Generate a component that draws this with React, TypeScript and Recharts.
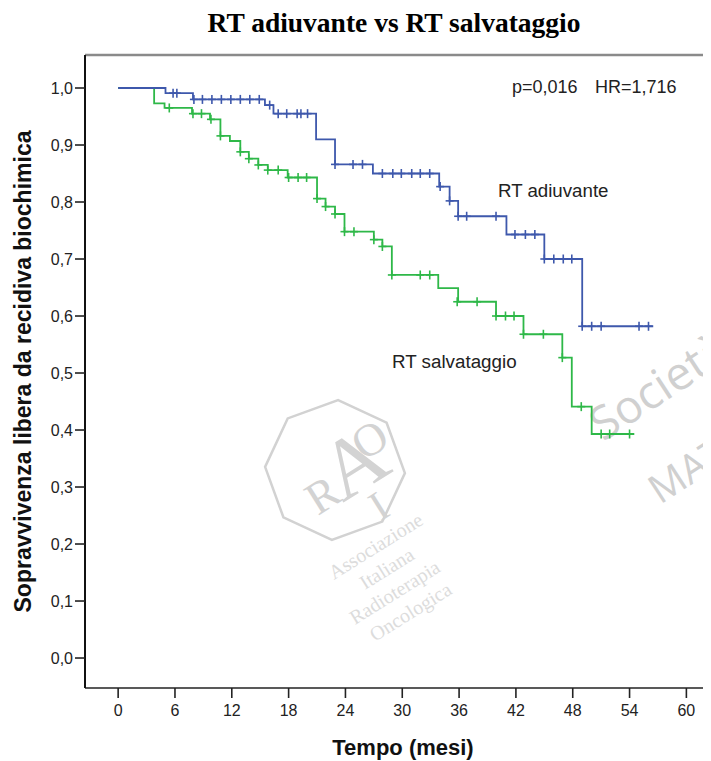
import React from 'react';
import { ComposedChart, Line, Scatter, XAxis, YAxis, ReferenceLine } from 'recharts';

// ---- Data (months, survival) ----
const adjuvantStepTimes = [0, 5.0, 7.9, 15.5, 16.4, 20.9, 22.9, 26.9, 33.9, 35.0, 35.9, 41.0, 45.0, 49.0, 56.5];
const adjuvantStepSurv = [1.0, 0.991, 0.98, 0.97, 0.955, 0.91, 0.866, 0.85, 0.827, 0.802, 0.775, 0.743, 0.7, 0.582, 0.582];
const adjuvantCensorTimes = [5.8, 6.2, 8.0, 8.9, 9.9, 10.9, 11.9, 12.9, 13.9, 14.9, 16.0, 16.9, 17.8, 18.9, 19.3, 20.0, 22.9, 24.8, 25.8, 27.9, 29.0, 29.9, 31.0, 31.9, 32.9, 34.0, 35.0, 35.9, 36.8, 39.9, 41.9, 43.0, 44.0, 45.0, 46.0, 47.0, 47.9, 49.0, 50.0, 51.0, 55.0, 56.0];
const adjuvantCensorSurv = [0.991, 0.991, 0.98, 0.98, 0.98, 0.98, 0.98, 0.98, 0.98, 0.98, 0.97, 0.955, 0.955, 0.955, 0.955, 0.955, 0.866, 0.866, 0.866, 0.85, 0.85, 0.85, 0.85, 0.85, 0.85, 0.827, 0.802, 0.775, 0.775, 0.775, 0.743, 0.743, 0.743, 0.7, 0.7, 0.7, 0.7, 0.582, 0.582, 0.582, 0.582, 0.582];

const salvageStepTimes = [0, 3.8, 4.9, 7.8, 9.7, 10.8, 11.8, 12.9, 13.8, 14.8, 15.8, 17.9, 21.0, 21.9, 22.9, 23.9, 27.0, 27.9, 28.9, 33.8, 35.9, 39.9, 42.8, 46.9, 47.9, 50.0, 54.5];
const salvageStepSurv = [1.0, 0.973, 0.965, 0.955, 0.945, 0.916, 0.907, 0.888, 0.876, 0.865, 0.856, 0.843, 0.806, 0.792, 0.779, 0.748, 0.734, 0.722, 0.672, 0.649, 0.625, 0.6, 0.568, 0.527, 0.441, 0.393, 0.393];
const salvageCensorTimes = [5.4, 7.9, 8.8, 9.8, 10.8, 12.9, 13.8, 14.8, 15.8, 16.9, 18.0, 19.0, 19.9, 21.0, 21.9, 22.9, 23.9, 24.9, 27.0, 27.9, 28.9, 31.9, 32.9, 35.8, 37.9, 39.9, 40.9, 41.8, 42.8, 44.9, 46.9, 48.9, 51.0, 51.9, 54.0];
const salvageCensorSurv = [0.965, 0.955, 0.955, 0.945, 0.916, 0.888, 0.876, 0.865, 0.856, 0.856, 0.843, 0.843, 0.843, 0.806, 0.792, 0.779, 0.748, 0.748, 0.734, 0.722, 0.672, 0.672, 0.672, 0.625, 0.625, 0.6, 0.6, 0.6, 0.568, 0.568, 0.527, 0.441, 0.393, 0.393, 0.393];

const xTicks = [0, 6, 12, 18, 24, 30, 36, 42, 48, 54, 60];
const yTicks = [0, 0.1, 0.2, 0.3, 0.4, 0.5, 0.6, 0.7, 0.8, 0.9, 1.0];

const X_DOMAIN: [number, number] = [-3.5, 64.5];
const Y_MIN = -0.0526;
const Y_MAX = 1.0579;

const BLUE = '#3E58AC';
const GREEN = '#2EB848';

const toRows = (ts: number[], ss: number[]) => ts.map((t, i) => ({ t, s: ss[i] }));

const adjuvantSteps = toRows(adjuvantStepTimes, adjuvantStepSurv);
const adjuvantCensor = toRows(adjuvantCensorTimes, adjuvantCensorSurv);
const salvageSteps = toRows(salvageStepTimes, salvageStepSurv);
const salvageCensor = toRows(salvageCensorTimes, salvageCensorSurv);

const plusShape = (color: string) => (props: any) => {
  const { cx, cy } = props;
  if (cx == null || cy == null) return <g />;
  return (
    <g>
      <line x1={cx - 4} x2={cx + 4} y1={cy} y2={cy} stroke={color} strokeWidth={1.6} />
      <line x1={cx} x2={cx} y1={cy - 4.5} y2={cy + 4.5} stroke={color} strokeWidth={1.6} />
    </g>
  );
};

const fmtY = (v: number) => v.toFixed(1).replace('.', ',');

const SANS = '"Liberation Sans", Arial, sans-serif';
const SERIF = '"Liberation Serif", "Times New Roman", serif';

function octagonPoints(cx: number, cy: number, r: number, rotDeg: number) {
  const pts: string[] = [];
  for (let i = 0; i < 8; i++) {
    const a = ((rotDeg + 22.5 + i * 45) * Math.PI) / 180;
    pts.push(`${(cx + r * Math.cos(a)).toFixed(1)},${(cy + r * Math.sin(a)).toFixed(1)}`);
  }
  return pts.join(' ');
}

export default function App() {
  const W = 703;
  const H = 753;
  return (
    <div style={{ position: 'relative', width: W, height: H, overflow: 'hidden', background: '#fff' }}>
      {/* watermark (behind chart) */}
      <svg width={W} height={H} style={{ position: 'absolute', left: 0, top: 0 }}>
        <polygon points={octagonPoints(327, 462, 70, -20)} fill="none" stroke="#d2d2d2" strokeWidth={2.5} />
        <g transform="rotate(-32 327 462)" fill="#d3d3d3" fontFamily={SERIF}>
          <text x={288} y={492} fontSize={46}>R</text>
          <text x={316} y={494} fontSize={84}>A</text>
          <text x={356} y={470} fontSize={46}>O</text>
          <text x={338} y={530} fontSize={42}>I</text>
        </g>
        <g fill="#dcdcdc" fontFamily={SERIF} fontSize={20}>
          <text x={326} y={572} transform="rotate(-32 326 572)">Associazione</text>
          <text x={357} y={582} transform="rotate(-32 357 582)">Italiana</text>
          <text x={347} y={617} transform="rotate(-32 347 617)">Radioterapia</text>
          <text x={367} y={634} transform="rotate(-32 367 634)">Oncologica</text>
        </g>
        <g fill="#d0d0d0" fontFamily={'"Open Sans", sans-serif'}>
          <text x={595} y={434} fontSize={46} transform="rotate(-33 595 434)">Società</text>
          <text x={652} y={497} fontSize={40} transform="rotate(-33 652 497)">MAT</text>
        </g>
      </svg>

      <div style={{ position: 'absolute', left: 0, top: 0 }}>
        <ComposedChart width={731} height={H} margin={{ top: 47, right: 10, bottom: 33, left: 0 }}>
          <XAxis
            dataKey="t"
            type="number"
            domain={X_DOMAIN}
            ticks={xTicks}
            allowDataOverflow
            tickSize={10}
            tickMargin={7}
            height={40}
            axisLine={{ stroke: '#222', strokeWidth: 1.6 }}
            tickLine={{ stroke: '#222', strokeWidth: 1.6 }}
            tick={{ fill: '#222', fontSize: 16, fontFamily: SANS }}
          />
          <YAxis
            type="number"
            domain={[Y_MIN, Y_MAX]}
            ticks={yTicks}
            allowDataOverflow
            width={77}
            tickSize={10}
            tickMargin={2}
            tickFormatter={fmtY}
            axisLine={{ stroke: '#111', strokeWidth: 2 }}
            tickLine={{ stroke: '#222', strokeWidth: 1.6 }}
            tick={{ fill: '#222', fontSize: 16, fontFamily: SANS }}
          />
          <ReferenceLine y={Y_MAX} stroke="#8a8a8a" strokeWidth={2.5} ifOverflow="visible" />
          <Line data={salvageSteps} dataKey="s" type="stepAfter" stroke={GREEN} strokeWidth={1.8} dot={false} isAnimationActive={false} />
          <Line data={adjuvantSteps} dataKey="s" type="stepAfter" stroke={BLUE} strokeWidth={1.8} dot={false} isAnimationActive={false} />
          <Scatter data={salvageCensor} dataKey="s" shape={plusShape(GREEN)} isAnimationActive={false} />
          <Scatter data={adjuvantCensor} dataKey="s" shape={plusShape(BLUE)} isAnimationActive={false} />
        </ComposedChart>
      </div>

      {/* text overlay */}
      <svg width={W} height={H} style={{ position: 'absolute', left: 0, top: 0, pointerEvents: 'none' }}>
        <text x={386} y={24} textAnchor="middle" fontFamily={SERIF} fontWeight="bold" fontSize={27.5} fill="#000">
          RT adiuvante vs RT salvataggio
        </text>
        <text x={504} y={85} fontFamily={SANS} fontSize={18} fill="#222">p=0,016</text>
        <text x={587} y={85} fontFamily={SANS} fontSize={18} fill="#222">HR=1,716</text>
        <text x={490} y={189} fontFamily={SANS} fontSize={18.7} fill="#222">RT adiuvante</text>
        <text x={384} y={360} fontFamily={SANS} fontSize={18.8} fill="#222">RT salvataggio</text>
        <text x={395} y={747} textAnchor="middle" fontFamily={SANS} fontWeight="bold" fontSize={22} fill="#111">
          Tempo (mesi)
        </text>
        <text
          x={23}
          y={363.5}
          textAnchor="middle"
          transform="rotate(-90 23 363.5)"
          fontFamily={SANS}
          fontWeight="bold"
          fontSize={23}
          fill="#111"
        >
          Sopravvivenza libera da recidiva biochimica
        </text>
      </svg>
    </div>
  );
}
